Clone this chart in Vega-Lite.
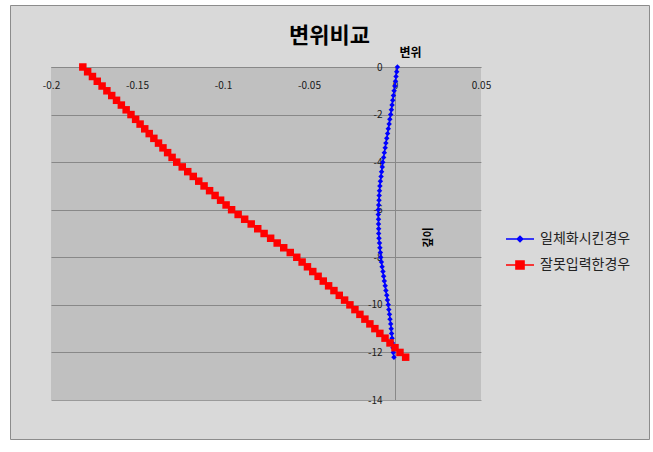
{
  "$schema": "https://vega.github.io/schema/vega-lite/v6.json",
  "width": 639,
  "height": 434,
  "autosize": {"type": "none"},
  "padding": {"left": 10, "top": 5, "right": 4, "bottom": 13},
  "background": "#FFFFFF",
  "config": {
    "font": "Noto Sans CJK KR",
    "view": {"fill": "#D9D9D9", "stroke": "#8C8C8C", "strokeWidth": 1}
  },
  "title": {"text": "변위비교", "fontSize": 22, "fontWeight": "bold", "color": "#000000", "anchor": "middle", "frame": "group", "offset": -53, "baseline": "middle"},
  "datasets": {
    "disp": [
      {"s":"일체화시킨경우","d":0,"v":0.0014},{"s":"일체화시킨경우","d":-0.2,"v":0.0010},{"s":"일체화시킨경우","d":-0.4,"v":0.0006},{"s":"일체화시킨경우","d":-0.6,"v":0.0003},{"s":"일체화시킨경우","d":-0.8,"v":-0.0001},
      {"s":"일체화시킨경우","d":-1,"v":-0.0005},{"s":"일체화시킨경우","d":-1.2,"v":-0.0009},{"s":"일체화시킨경우","d":-1.4,"v":-0.0013},{"s":"일체화시킨경우","d":-1.6,"v":-0.0017},{"s":"일체화시킨경우","d":-1.8,"v":-0.0021},
      {"s":"일체화시킨경우","d":-2,"v":-0.0025},{"s":"일체화시킨경우","d":-2.2,"v":-0.0030},{"s":"일체화시킨경우","d":-2.4,"v":-0.0034},{"s":"일체화시킨경우","d":-2.6,"v":-0.0039},{"s":"일체화시킨경우","d":-2.8,"v":-0.0043},
      {"s":"일체화시킨경우","d":-3,"v":-0.0048},{"s":"일체화시킨경우","d":-3.2,"v":-0.0053},{"s":"일체화시킨경우","d":-3.4,"v":-0.0057},{"s":"일체화시킨경우","d":-3.6,"v":-0.0062},{"s":"일체화시킨경우","d":-3.8,"v":-0.0066},
      {"s":"일체화시킨경우","d":-4,"v":-0.0071},{"s":"일체화시킨경우","d":-4.2,"v":-0.0074},{"s":"일체화시킨경우","d":-4.4,"v":-0.0078},{"s":"일체화시킨경우","d":-4.6,"v":-0.0081},{"s":"일체화시킨경우","d":-4.8,"v":-0.0085},
      {"s":"일체화시킨경우","d":-5,"v":-0.0088},{"s":"일체화시킨경우","d":-5.2,"v":-0.0090},{"s":"일체화시킨경우","d":-5.4,"v":-0.0092},{"s":"일체화시킨경우","d":-5.6,"v":-0.0093},{"s":"일체화시킨경우","d":-5.8,"v":-0.0095},
      {"s":"일체화시킨경우","d":-6,"v":-0.0097},{"s":"일체화시킨경우","d":-6.2,"v":-0.0097},{"s":"일체화시킨경우","d":-6.4,"v":-0.0096},{"s":"일체화시킨경우","d":-6.6,"v":-0.0096},{"s":"일체화시킨경우","d":-6.8,"v":-0.0095},
      {"s":"일체화시킨경우","d":-7,"v":-0.0095},{"s":"일체화시킨경우","d":-7.2,"v":-0.0093},{"s":"일체화시킨경우","d":-7.4,"v":-0.0090},{"s":"일체화시킨경우","d":-7.6,"v":-0.0088},{"s":"일체화시킨경우","d":-7.8,"v":-0.0085},
      {"s":"일체화시킨경우","d":-8,"v":-0.0083},{"s":"일체화시킨경우","d":-8.2,"v":-0.0079},{"s":"일체화시킨경우","d":-8.4,"v":-0.0075},{"s":"일체화시킨경우","d":-8.6,"v":-0.0070},{"s":"일체화시킨경우","d":-8.8,"v":-0.0066},
      {"s":"일체화시킨경우","d":-9,"v":-0.0062},{"s":"일체화시킨경우","d":-9.2,"v":-0.0057},{"s":"일체화시킨경우","d":-9.4,"v":-0.0053},{"s":"일체화시킨경우","d":-9.6,"v":-0.0048},{"s":"일체화시킨경우","d":-9.8,"v":-0.0044},
      {"s":"일체화시킨경우","d":-10,"v":-0.0039},{"s":"일체화시킨경우","d":-10.2,"v":-0.0036},{"s":"일체화시킨경우","d":-10.4,"v":-0.0032},{"s":"일체화시킨경우","d":-10.6,"v":-0.0029},{"s":"일체화시킨경우","d":-10.8,"v":-0.0025},
      {"s":"일체화시킨경우","d":-11,"v":-0.0022},{"s":"일체화시킨경우","d":-11.2,"v":-0.0020},{"s":"일체화시킨경우","d":-11.4,"v":-0.0017},{"s":"일체화시킨경우","d":-11.6,"v":-0.0015},{"s":"일체화시킨경우","d":-11.8,"v":-0.0012},
      {"s":"일체화시킨경우","d":-12,"v":-0.0010},{"s":"일체화시킨경우","d":-12.2,"v":-0.0006},
      {"s":"잘못입력한경우","d":0,"v":-0.1815},{"s":"잘못입력한경우","d":-0.2,"v":-0.1787},{"s":"잘못입력한경우","d":-0.4,"v":-0.1759},{"s":"잘못입력한경우","d":-0.6,"v":-0.1731},{"s":"잘못입력한경우","d":-0.8,"v":-0.1703},
      {"s":"잘못입력한경우","d":-1,"v":-0.1675},{"s":"잘못입력한경우","d":-1.2,"v":-0.1647},{"s":"잘못입력한경우","d":-1.4,"v":-0.1619},{"s":"잘못입력한경우","d":-1.6,"v":-0.1591},{"s":"잘못입력한경우","d":-1.8,"v":-0.1563},
      {"s":"잘못입력한경우","d":-2,"v":-0.1535},{"s":"잘못입력한경우","d":-2.2,"v":-0.1508},{"s":"잘못입력한경우","d":-2.4,"v":-0.1482},{"s":"잘못입력한경우","d":-2.6,"v":-0.1455},{"s":"잘못입력한경우","d":-2.8,"v":-0.1429},
      {"s":"잘못입력한경우","d":-3,"v":-0.1402},{"s":"잘못입력한경우","d":-3.2,"v":-0.1375},{"s":"잘못입력한경우","d":-3.4,"v":-0.1349},{"s":"잘못입력한경우","d":-3.6,"v":-0.1322},{"s":"잘못입력한경우","d":-3.8,"v":-0.1296},
      {"s":"잘못입력한경우","d":-4,"v":-0.1269},{"s":"잘못입력한경우","d":-4.2,"v":-0.1237},{"s":"잘못입력한경우","d":-4.4,"v":-0.1205},{"s":"잘못입력한경우","d":-4.6,"v":-0.1173},{"s":"잘못입력한경우","d":-4.8,"v":-0.1141},
      {"s":"잘못입력한경우","d":-5,"v":-0.1110},{"s":"잘못입력한경우","d":-5.2,"v":-0.1078},{"s":"잘못입력한경우","d":-5.4,"v":-0.1046},{"s":"잘못입력한경우","d":-5.6,"v":-0.1014},{"s":"잘못입력한경우","d":-5.8,"v":-0.0982},
      {"s":"잘못입력한경우","d":-6,"v":-0.0950},{"s":"잘못입력한경우","d":-6.2,"v":-0.0912},{"s":"잘못입력한경우","d":-6.4,"v":-0.0874},{"s":"잘못입력한경우","d":-6.6,"v":-0.0836},{"s":"잘못입력한경우","d":-6.8,"v":-0.0798},
      {"s":"잘못입력한경우","d":-7,"v":-0.0761},{"s":"잘못입력한경우","d":-7.2,"v":-0.0723},{"s":"잘못입력한경우","d":-7.4,"v":-0.0685},{"s":"잘못입력한경우","d":-7.6,"v":-0.0647},{"s":"잘못입력한경우","d":-7.8,"v":-0.0609},
      {"s":"잘못입력한경우","d":-8,"v":-0.0571},{"s":"잘못입력한경우","d":-8.2,"v":-0.0540},{"s":"잘못입력한경우","d":-8.4,"v":-0.0509},{"s":"잘못입력한경우","d":-8.6,"v":-0.0478},{"s":"잘못입력한경우","d":-8.8,"v":-0.0447},
      {"s":"잘못입력한경우","d":-9,"v":-0.0417},{"s":"잘못입력한경우","d":-9.2,"v":-0.0386},{"s":"잘못입력한경우","d":-9.4,"v":-0.0355},{"s":"잘못입력한경우","d":-9.6,"v":-0.0324},{"s":"잘못입력한경우","d":-9.8,"v":-0.0293},
      {"s":"잘못입력한경우","d":-10,"v":-0.0262},{"s":"잘못입력한경우","d":-10.2,"v":-0.0233},{"s":"잘못입력한경우","d":-10.4,"v":-0.0204},{"s":"잘못입력한경우","d":-10.6,"v":-0.0175},{"s":"잘못입력한경우","d":-10.8,"v":-0.0146},
      {"s":"잘못입력한경우","d":-11,"v":-0.0117},{"s":"잘못입력한경우","d":-11.2,"v":-0.0088},{"s":"잘못입력한경우","d":-11.4,"v":-0.0058},{"s":"잘못입력한경우","d":-11.6,"v":-0.0029},{"s":"잘못입력한경우","d":-11.8,"v":0.0000},
      {"s":"잘못입력한경우","d":-12,"v":0.0029},{"s":"잘못입력한경우","d":-12.2,"v":0.0062}
    ]
  },
  "layer": [
    {
      "data": {"values": [{}]},
      "mark": {"type": "rect", "color": "#000000", "opacity": 0.1152},
      "encoding": {
        "x": {"datum": -0.2, "type": "quantitative", "scale": {"domain": [-0.2, 0.05], "range": [41, 471], "nice": false, "zero": false}},
        "x2": {"datum": 0.05},
        "y": {"datum": -14, "type": "quantitative", "scale": {"domain": [-14, 0], "range": [395, 62], "nice": false, "zero": false}},
        "y2": {"datum": 0}
      }
    },
    {
      "data": {"name": "disp"},
      "mark": {"type": "line", "strokeWidth": 1.5},
      "encoding": {
        "x": {
          "field": "v", "type": "quantitative",
          "scale": {"domain": [-0.2, 0.05], "range": [41, 471], "nice": false, "zero": false},
          "axis": {
            "orient": "bottom", "offset": -372,
            "values": [-0.2, -0.15, -0.1, -0.05, 0, 0.05],
            "labelExpr": "'' + datum.value",
            "domain": true, "domainColor": "#9A9A9A", "domainWidth": 1,
            "ticks": false, "grid": false,
            "labelPadding": 13, "labelFontSize": 10, "labelColor": "#222222", "labelFlush": false, "labelOverlap": false,
            "title": "변위", "titleX": 400, "titleY": -15, "titleFontSize": 12, "titleFontWeight": "bold", "titleColor": "#000000",
            "titleBaseline": "middle", "titleAlign": "center", "titleAngle": 0
          }
        },
        "y": {
          "field": "d", "type": "quantitative",
          "scale": {"domain": [-14, 0], "range": [395, 62], "nice": false, "zero": false},
          "axis": {
            "orient": "left", "offset": -385,
            "values": [-14, -12, -10, -8, -6, -4, -2, 0],
            "labelExpr": "'' + datum.value",
            "domain": true, "domainColor": "#9A9A9A", "domainWidth": 1,
            "ticks": false, "grid": true, "gridColor": "#9A9A9A", "gridWidth": 1,
            "labelPadding": 13, "labelFontSize": 10, "labelColor": "#222222", "labelFlush": false, "labelOverlap": false,
            "title": "깊이", "titleX": 33, "titleY": 232, "titleFontSize": 11, "titleFontWeight": "bold", "titleColor": "#000000",
            "titleBaseline": "middle", "titleAlign": "center", "titleAngle": -90
          }
        },
        "order": {"field": "d", "sort": "descending"},
        "color": {
          "field": "s", "type": "nominal",
          "scale": {"domain": ["일체화시킨경우", "잘못입력한경우"], "range": ["#0000FF", "#FF0000"]},
          "legend": {
            "orient": "none", "legendX": 495, "legendY": 219, "title": null, "padding": 0,
            "symbolSize": 784, "symbolStrokeWidth": 1.5,
            "labelFontSize": 14, "labelColor": "#222222", "labelOffset": 5, "rowPadding": 4,
            "encode": {
              "symbols": {
                "update": {
                  "shape": {"signal": "datum.value === '일체화시킨경우' ? 'M-1,0H1M0,-0.2L0.2,0L0,0.2L-0.2,0Z' : 'M-1,0H1M-0.29,-0.29H0.29V0.29H-0.29Z'"},
                  "fill": {"signal": "datum.value === '일체화시킨경우' ? '#0000FF' : '#FF0000'"},
                  "stroke": {"signal": "datum.value === '일체화시킨경우' ? '#0000FF' : '#FF0000'"},
                  "opacity": {"value": 1},
                  "fillOpacity": {"value": 1}
                }
              }
            }
          }
        }
      }
    },
    {
      "data": {"name": "disp"},
      "transform": [{"filter": "datum.s === '일체화시킨경우'"}],
      "mark": {"type": "point", "filled": true, "opacity": 1, "shape": "diamond", "size": 30, "color": "#0000FF"},
      "encoding": {
        "x": {"field": "v", "type": "quantitative", "scale": {"domain": [-0.2, 0.05], "range": [41, 471], "nice": false, "zero": false}},
        "y": {"field": "d", "type": "quantitative", "scale": {"domain": [-14, 0], "range": [395, 62], "nice": false, "zero": false}}
      }
    },
    {
      "data": {"name": "disp"},
      "transform": [{"filter": "datum.s === '잘못입력한경우'"}],
      "mark": {"type": "point", "filled": true, "opacity": 1, "shape": "square", "size": 56, "color": "#FF0000"},
      "encoding": {
        "x": {"field": "v", "type": "quantitative", "scale": {"domain": [-0.2, 0.05], "range": [41, 471], "nice": false, "zero": false}},
        "y": {"field": "d", "type": "quantitative", "scale": {"domain": [-14, 0], "range": [395, 62], "nice": false, "zero": false}}
      }
    }
  ]
}
